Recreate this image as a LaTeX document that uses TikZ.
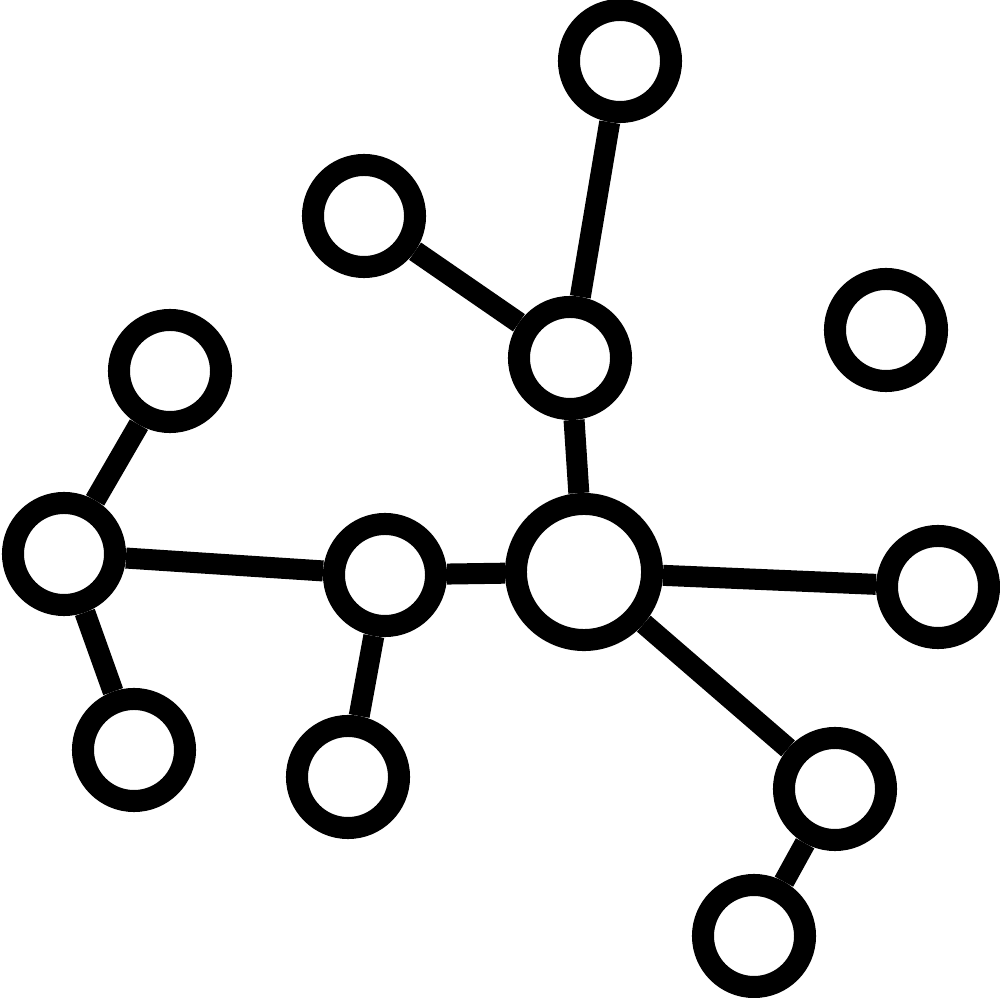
\documentclass[tikz,border=0pt]{standalone}
\usepackage{tikz}

\begin{document}
\begin{tikzpicture}[x=0.01cm,y=-0.01cm,
  atom/.style={circle,draw=black,line width=0.22cm,minimum size=1.02cm,inner sep=0pt},
  bigatom/.style={atom,minimum size=1.36cm},
  bond/.style={line width=0.21cm,black}]
\useasboundingbox (0,0) rectangle (1000,998);
\node[atom] (top) at (620,61) {};
\node[atom] (upleft) at (364,216) {};
\node[atom] (upmid) at (570,358) {};
\node[atom] (lone) at (886,330) {};
\node[atom] (lefttop) at (170,371) {};
\node[atom] (left) at (64,554) {};
\node[atom] (midleft) at (385,575) {};
\node[bigatom] (core) at (584,572) {};
\node[atom] (right) at (938,587) {};
\node[atom] (lowleft) at (134,750) {};
\node[atom] (lowmid) at (348,777) {};
\node[atom] (lowright) at (835,789) {};
\node[atom] (bottom) at (754,936) {};
\draw[bond] (top) -- (upmid);
\draw[bond] (upleft) -- (upmid);
\draw[bond] (upmid) -- (core);
\draw[bond] (lefttop) -- (left);
\draw[bond] (left) -- (midleft);
\draw[bond] (left) -- (lowleft);
\draw[bond] (midleft) -- (core);
\draw[bond] (midleft) -- (lowmid);
\draw[bond] (core) -- (right);
\draw[bond] (core) -- (lowright);
\draw[bond] (lowright) -- (bottom);
\end{tikzpicture}
\end{document}
